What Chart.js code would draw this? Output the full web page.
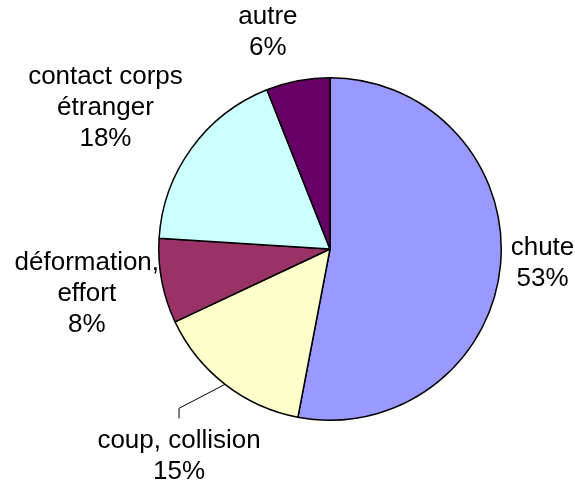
<!DOCTYPE html>
<html>
<head>
<meta charset="utf-8">
<script src="https://cdn.jsdelivr.net/npm/chart.js@4/dist/chart.umd.min.js"></script>
<style>
html,body{margin:0;padding:0;background:#fff;}
canvas{display:block;}
</style>
</head>
<body>
<canvas id="c" width="575" height="489"></canvas>
<script>
const categories = ["chute", "coup, collision", "déformation, effort", "contact corps étranger", "autre"];
const labelLines = [["chute"], ["coup, collision"], ["déformation,", "effort"], ["contact corps", "étranger"], ["autre"]];
const values = [53, 15, 8, 18, 6];
const colors = ["#9999FF", "#FFFFCC", "#993366", "#CCFFFF", "#660066"];

// label offsets (px) relative to each slice's outer-edge midpoint
const labelOffsets = [[42, -2], [-46, 72], [-75, 13], [-86, -41], [-30, -48]];
const FONT_SIZE = 26, LINE_H = 31;

const labelPlugin = {
  id: 'outLabels',
  afterDatasetsDraw(chart) {
    const ctx = chart.ctx;
    const meta = chart.getDatasetMeta(0);
    const total = values.reduce((a, b) => a + b, 0);
    ctx.save();
    ctx.font = FONT_SIZE + 'px "Liberation Sans", Arial, sans-serif';
    ctx.fillStyle = '#000';
    ctx.textAlign = 'center';
    ctx.textBaseline = 'middle';
    meta.data.forEach((arc, i) => {
      const p = arc.getProps(['x', 'y', 'startAngle', 'endAngle', 'outerRadius'], true);
      const mid = (p.startAngle + p.endAngle) / 2;
      const ex = p.x + Math.cos(mid) * p.outerRadius;
      const ey = p.y + Math.sin(mid) * p.outerRadius;
      const cx = ex + labelOffsets[i][0];
      const cy = ey + labelOffsets[i][1];
      const lines = labelLines[i].concat([Math.round(values[i] / total * 100) + '%']);
      const n = lines.length;
      lines.forEach((t, k) => {
        ctx.fillText(t, cx, cy + (k - (n - 1) / 2) * LINE_H);
      });
      if (i === 1) {
        // leader line
        ctx.strokeStyle = '#000';
        ctx.lineWidth = 1;
        ctx.beginPath();
        ctx.moveTo(ex, ey);
        ctx.lineTo(cx, ey + 24);
        ctx.lineTo(cx, ey + 34);
        ctx.stroke();
      }
    });
    ctx.restore();
  }
};

new Chart(document.getElementById('c'), {
  type: 'pie',
  data: {
    labels: categories,
    datasets: [{
      data: values,
      backgroundColor: colors,
      borderColor: '#000',
      borderWidth: 1.5
    }]
  },
  options: {
    responsive: false,
    animation: false,
    layout: { padding: { left: 158, right: 73, top: 77, bottom: 68 } },
    plugins: { legend: { display: false }, tooltip: { enabled: false } }
  },
  plugins: [labelPlugin]
});
</script>
</body>
</html>
